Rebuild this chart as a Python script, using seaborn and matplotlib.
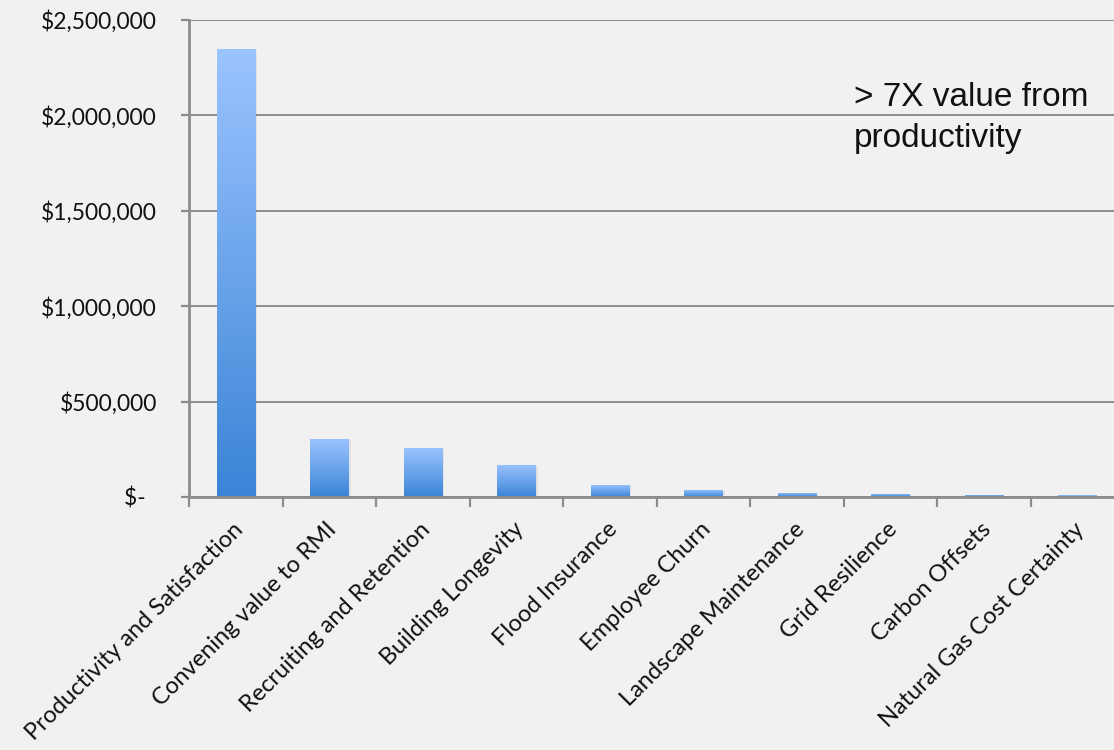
import numpy as np
import matplotlib
matplotlib.use("Agg")
import matplotlib.pyplot as plt
import matplotlib.patheffects as pe
from matplotlib.colors import LinearSegmentedColormap
from matplotlib.transforms import ScaledTranslation
from matplotlib.ticker import FixedLocator, FuncFormatter
import seaborn as sns

# Estimated annual value by benefit category (USD)
categories = [
    "Productivity and Satisfaction",
    "Convening value to RMI",
    "Recruiting and Retention",
    "Building Longevity",
    "Flood Insurance",
    "Employee Churn",
    "Landscape Maintenance",
    "Grid Resilience",
    "Carbon Offsets",
    "Natural Gas Cost Certainty",
]
values = [2350000, 305000, 257000, 168000, 63000, 38000, 23000, 17000, 12000, 8000]
y_ticks = [0, 500000, 1000000, 1500000, 2000000, 2500000]
note_text = "> 7X value from\nproductivity"

BG = "#f1f1f1"
GRID = "#8c8c8c"
TOP_BLUE = "#9cc4ff"
BOTTOM_BLUE = "#3a84d6"

sns.set_theme(style="white")
plt.rcParams["font.family"] = ["Lato", "DejaVu Sans"]

fig = plt.figure(figsize=(11.14, 7.5), dpi=100, facecolor=BG)
ax = fig.add_axes([189 / 1114, 1 - 497 / 750, (1124 - 189) / 1114, (497 - 20) / 750])
ax.set_facecolor(BG)

sns.barplot(x=categories, y=values, color=TOP_BLUE, width=0.41, ax=ax,
            saturation=1, zorder=3)

ax.set_xlim(-0.5, len(categories) - 0.5)
ax.set_ylim(0, 2500000)

# vertical gradient fill for each bar, light at the top, deeper blue at the base
cmap = LinearSegmentedColormap.from_list("bar_grad", [BOTTOM_BLUE, TOP_BLUE])
grad = np.linspace(0, 1, 256).reshape(-1, 1)
for patch in ax.patches:
    x0, y0 = patch.get_x(), patch.get_y()
    w, h = patch.get_width(), patch.get_height()
    patch.set_facecolor("none")
    patch.set_edgecolor("none")
    shadow = plt.Rectangle((x0, y0), w, h, facecolor=TOP_BLUE, edgecolor="none", zorder=2.5,
                           path_effects=[pe.SimplePatchShadow(offset=(1.5, -1), alpha=0.08)])
    ax.add_patch(shadow)
    im = ax.imshow(grad, cmap=cmap, origin="lower", aspect="auto",
                   extent=(x0, x0 + w, y0, y0 + h), zorder=3, interpolation="bilinear")
    im.set_clip_path(patch)

ax.set_xlim(-0.5, len(categories) - 0.5)
ax.set_ylim(0, 2500000)

# gridlines and axes
ax.yaxis.set_major_locator(FixedLocator(y_ticks))
ax.grid(axis="y", color=GRID, linewidth=1.4, zorder=1)
ax.grid(axis="x", visible=False)
for side in ("top", "right"):
    ax.spines[side].set_visible(False)
for side in ("left", "bottom"):
    ax.spines[side].set_color(GRID)
    ax.spines[side].set_linewidth(2)
    ax.spines[side].set_zorder(4)


def money(v, pos):
    if v == 0:
        return "$-  "
    return "${:,.0f}".format(v)


ax.yaxis.set_major_formatter(FuncFormatter(money))
ax.tick_params(axis="y", which="major", direction="out", length=6, width=1.6,
               color=GRID, pad=17, labelsize=16.5, labelcolor="#111111", left=True)

# category boundary ticks on the x axis, labels at category centers
ax.set_xticks(np.arange(len(categories)) - 0.5, minor=True)
ax.tick_params(axis="x", which="minor", direction="out", length=7, width=1.6,
               color=GRID, bottom=True)
ax.tick_params(axis="x", which="major", length=0, pad=21, labelsize=17,
               labelcolor="#111111")
ax.set_xticks(np.arange(len(categories)))
ax.set_xticklabels(categories, rotation=45, ha="right", va="center",
                   rotation_mode="anchor")
shift = ScaledTranslation(4 / 100, 0, fig.dpi_scale_trans)
for lab in ax.get_xticklabels():
    lab.set_transform(lab.get_transform() + shift)

ax.set_xlabel("")
ax.set_ylabel("")

# two-line note; baseline given for the last line
fig.text(854 / 1114, 1 - 147 / 750, note_text, fontsize=24, color="#111111",
         family=["Liberation Sans", "DejaVu Sans"], ha="left", va="baseline",
         linespacing=1.42)

fig.savefig("out.png", dpi=100, facecolor=BG)
